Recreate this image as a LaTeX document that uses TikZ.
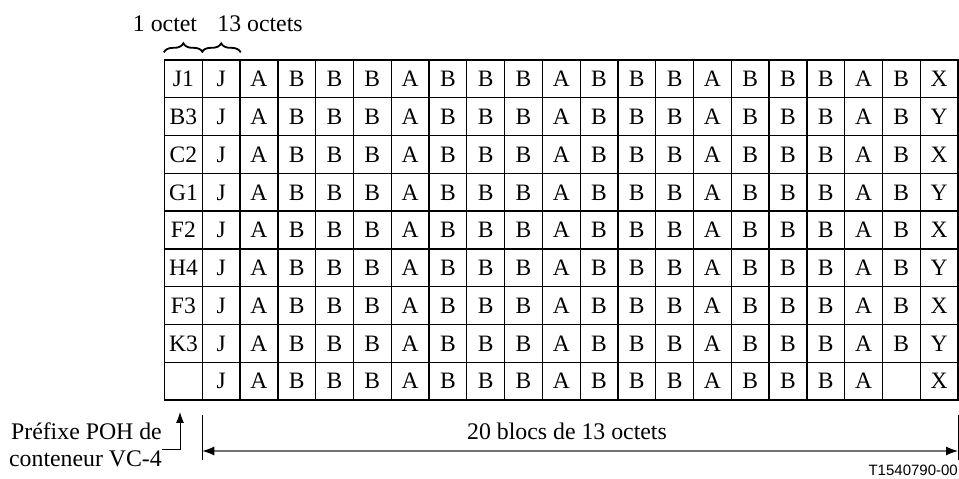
\documentclass[tikz,border=0pt]{standalone}
\usepackage{fontspec}
\setmainfont{Liberation Serif}
\newfontfamily\tsans{Liberation Sans}
\usetikzlibrary{decorations.pathreplacing,arrows.meta}
\begin{document}
\begin{tikzpicture}[x=1pt,y=1pt,
  cell/.style={draw,line width=1.3pt,minimum width=37.786pt,minimum height=37.78pt,inner sep=0pt,text height=15.6pt,text depth=0pt,font=\fontsize{23.5}{26}\selectfont},
  lbl/.style={font=\fontsize{23.8}{28}\selectfont,inner sep=0pt},
  bracel/.style={decorate,decoration={brace,amplitude=9pt},line width=1.8pt},
  tick/.style={line width=0.9pt},
  dim/.style={line width=1.1pt,draw=black!55,{Latex[length=12pt,width=9pt,black]}-{Latex[length=12pt,width=9pt,black]}},
  ptr/.style={line width=0.9pt,-{Latex[length=11pt,width=8pt]}}]
\useasboundingbox (0,0) rectangle (959,479);
\foreach \row [count=\r] in {
  {J1,J,A,B,B,B,A,B,B,B,A,B,B,B,A,B,B,B,A,B,X},
  {B3,J,A,B,B,B,A,B,B,B,A,B,B,B,A,B,B,B,A,B,Y},
  {C2,J,A,B,B,B,A,B,B,B,A,B,B,B,A,B,B,B,A,B,X},
  {G1,J,A,B,B,B,A,B,B,B,A,B,B,B,A,B,B,B,A,B,Y},
  {F2,J,A,B,B,B,A,B,B,B,A,B,B,B,A,B,B,B,A,B,X},
  {H4,J,A,B,B,B,A,B,B,B,A,B,B,B,A,B,B,B,A,B,Y},
  {F3,J,A,B,B,B,A,B,B,B,A,B,B,B,A,B,B,B,A,B,X},
  {K3,J,A,B,B,B,A,B,B,B,A,B,B,B,A,B,B,B,A,B,Y},
  {{},J,A,B,B,B,A,B,B,B,A,B,B,B,A,B,B,B,A,{},X}} {
  \foreach \t [count=\c] in \row {
    \node[cell] (c\r-\c) at ({164.5+(\c-0.5)*37.786},{419-(\r-0.5)*37.78}) {\t};
  }
}
% braces
\draw[bracel] ([yshift=7pt]c1-1.north west) -- ([yshift=7pt]c1-1.north east);
\draw[bracel] ([yshift=7pt]c1-2.north west) -- ([yshift=7pt]c1-2.north east);
\node[lbl,anchor=base] (one) at (165,447) {1 octet};
\node[lbl,anchor=base] (thirteen) at (260,447) {13 octets};
% bottom dimension
\coordinate (t1a) at (202.3,64);
\coordinate (t1b) at (202.3,19);
\coordinate (t2a) at (958,64);
\coordinate (t2b) at (958,19);
\coordinate (dL) at (202.3,28);
\coordinate (dR) at (958,28);
\draw[tick] (t1a) -- (t1b);
\draw[tick] (t2a) -- (t2b);
\draw[dim] (dL) -- (dR);
\node[lbl,anchor=base] (blocs) at (567,39) {20 blocs de 13 octets};
% left pointer
\node[lbl,anchor=base east] (pre1) at (162,39) {Préfixe POH de};
\node[lbl,anchor=base east] (pre2) at (162,12) {conteneur VC-4};
\coordinate (pc) at (180,30);
\coordinate (pt) at (180,67);
\draw[ptr] (pre2.north east |- pc) -- (pc) -- (pt);
\node[inner sep=0pt,anchor=base east,font=\tsans\fontsize{15}{17}\selectfont] (ref) at (958,3) {T1540790-00};
\end{tikzpicture}
\end{document}
